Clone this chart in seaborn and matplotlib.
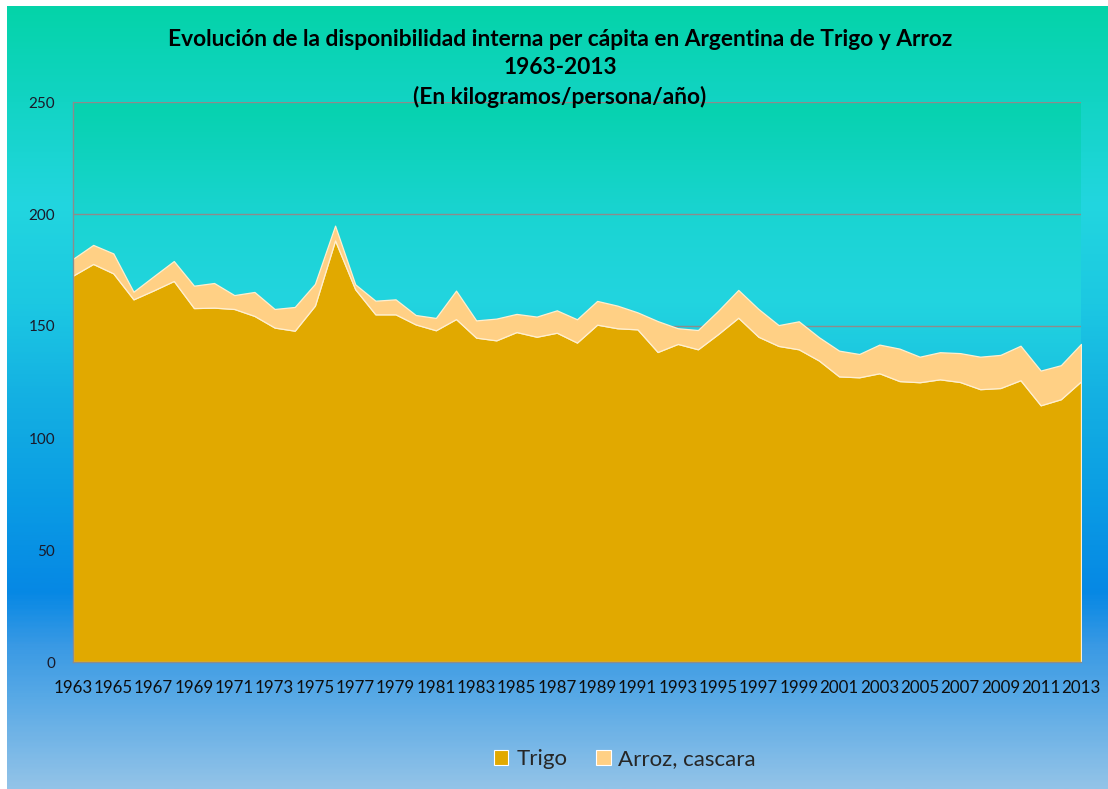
import numpy as np
import pandas as pd
import matplotlib
matplotlib.use("Agg")
import matplotlib.pyplot as plt
from matplotlib.colors import LinearSegmentedColormap
from matplotlib.patches import Patch
import seaborn as sns

# ── Data (kg/persona/año) ─────────────────────────────────────────────────────
years = list(range(1963, 2014))
trigo = [172.5, 177.7, 173.5, 161.9, 165.9, 170.1, 158.0, 158.2, 157.6, 154.5,
         149.3, 147.9, 159.1, 188.2, 166.4, 155.2, 155.2, 150.7, 148.1, 153.1,
         144.8, 143.6, 147.3, 145.2, 147.0, 142.6, 150.6, 149.0, 148.5, 138.4,
         142.0, 139.6, 146.4, 153.7, 145.2, 141.1, 139.6, 134.6, 127.5, 127.1,
         128.9, 125.4, 124.9, 126.2, 125.0, 121.8, 122.3, 125.8, 114.6, 117.3,
         125.3]
arroz = [7.5, 8.5, 8.9, 3.4, 6.3, 8.9, 10.0, 11.0, 6.2, 10.7,
         8.3, 10.6, 9.7, 6.6, 2.2, 6.1, 6.7, 4.2, 5.5, 12.7,
         7.7, 9.7, 8.1, 9.0, 10.0, 10.4, 10.6, 10.1, 7.6, 13.8,
         7.0, 8.6, 10.4, 12.4, 12.4, 9.3, 12.5, 10.4, 11.5, 10.4,
         12.8, 14.5, 11.4, 12.1, 12.9, 14.5, 14.8, 15.4, 15.5, 15.2,
         16.7]
series_names = ["Trigo", "Arroz, cascara"]
colors = ["#E1A900", "#FFD085"]

title_lines = ["Evolución de la disponibilidad interna per cápita en Argentina de Trigo y Arroz",
               "1963-2013",
               "(En kilogramos/persona/año)"]

df = pd.DataFrame({"year": years, "Trigo": trigo, "Arroz, cascara": arroz})

sns.set_style("white")
plt.rcParams["font.family"] = ["Lato", "DejaVu Sans"]

fig = plt.figure(figsize=(11.08, 7.89), dpi=100)
fig.patch.set_facecolor("white")

# ── Background gradient (chart area) ─────────────────────────────────────────
bg_cmap = LinearSegmentedColormap.from_list("bg", [
    (0.00, "#04D3A9"), (0.12, "#12D4C4"), (0.25, "#22D6DF"), (0.38, "#1CC8E2"),
    (0.50, "#14B0E2"), (0.63, "#0A9CE4"), (0.75, "#0688E4"), (0.82, "#3A9AE4"),
    (0.89, "#5AAAE6"), (1.00, "#92C3E8")])
bg_ax = fig.add_axes([7 / 1108, 0, 1 - 7 / 1108, 783 / 789])
bg_ax.imshow(np.linspace(0, 1, 400).reshape(-1, 1), aspect="auto", cmap=bg_cmap,
             extent=[0, 1, 0, 1])
bg_ax.set_axis_off()

# ── Plot area ────────────────────────────────────────────────────────────────
ax = fig.add_axes([73 / 1108, 127 / 789, 1008 / 1108, 560 / 789])
ax.set_facecolor("none")
pa_cmap = LinearSegmentedColormap.from_list("pa", [
    (0.00, "#06D2AE"), (0.20, "#1AD4D2"), (0.35, "#22D5DF"), (0.55, "#18BCE2"),
    (0.80, "#0C9EE4"), (1.00, "#0A8EE4")])
ax.imshow(np.linspace(0, 1, 300).reshape(-1, 1), aspect="auto", cmap=pa_cmap,
          extent=[1963, 2013, 0, 250], zorder=0)

ax.stackplot(df["year"], df["Trigo"], df["Arroz, cascara"], colors=colors,
             edgecolor="#FFEFD0", linewidth=0.9, zorder=2)

ax.set_xlim(1963, 2013)
ax.set_ylim(0, 250)
ax.set_yticks(range(0, 251, 50))
ax.set_xticks(years[::2])
ax.set_xticks(years, minor=True)
ax.grid(axis="y", color="#8C8C8C", linewidth=1, zorder=1)
ax.set_axisbelow(True)

for side in ["top", "right"]:
    ax.spines[side].set_visible(False)
for side in ["left", "bottom"]:
    ax.spines[side].set_color("#8C8C8C")
    ax.spines[side].set_linewidth(1)
    ax.spines[side].set_zorder(3)

ax.tick_params(axis="x", which="both", direction="out", length=4, color="#8C8C8C",
               labelsize=12.2, labelcolor="#0D0D0D", pad=9)
ax.tick_params(axis="y", direction="out", length=5, color="#8C8C8C",
               labelsize=11, labelcolor="#1A1A2A", pad=8)

# ── Title ────────────────────────────────────────────────────────────────────
for line, ypix in zip(title_lines, [39, 67, 97]):
    fig.text(560 / 1108, 1 - ypix / 789, line, ha="center", va="center",
             fontsize=16.4, fontweight="bold", color="#000000")

# ── Legend ───────────────────────────────────────────────────────────────────
handles = [Patch(facecolor=c, edgecolor="white", linewidth=0.8) for c in colors]
fig.legend(handles, series_names, loc="center", bbox_to_anchor=(625 / 1108, 1 - 759 / 789),
           ncol=2, frameon=False, fontsize=16, handlelength=0.65, handleheight=0.65,
           handletextpad=0.35, columnspacing=1.3)

plt.savefig("out.png", dpi=100)
plt.close()
